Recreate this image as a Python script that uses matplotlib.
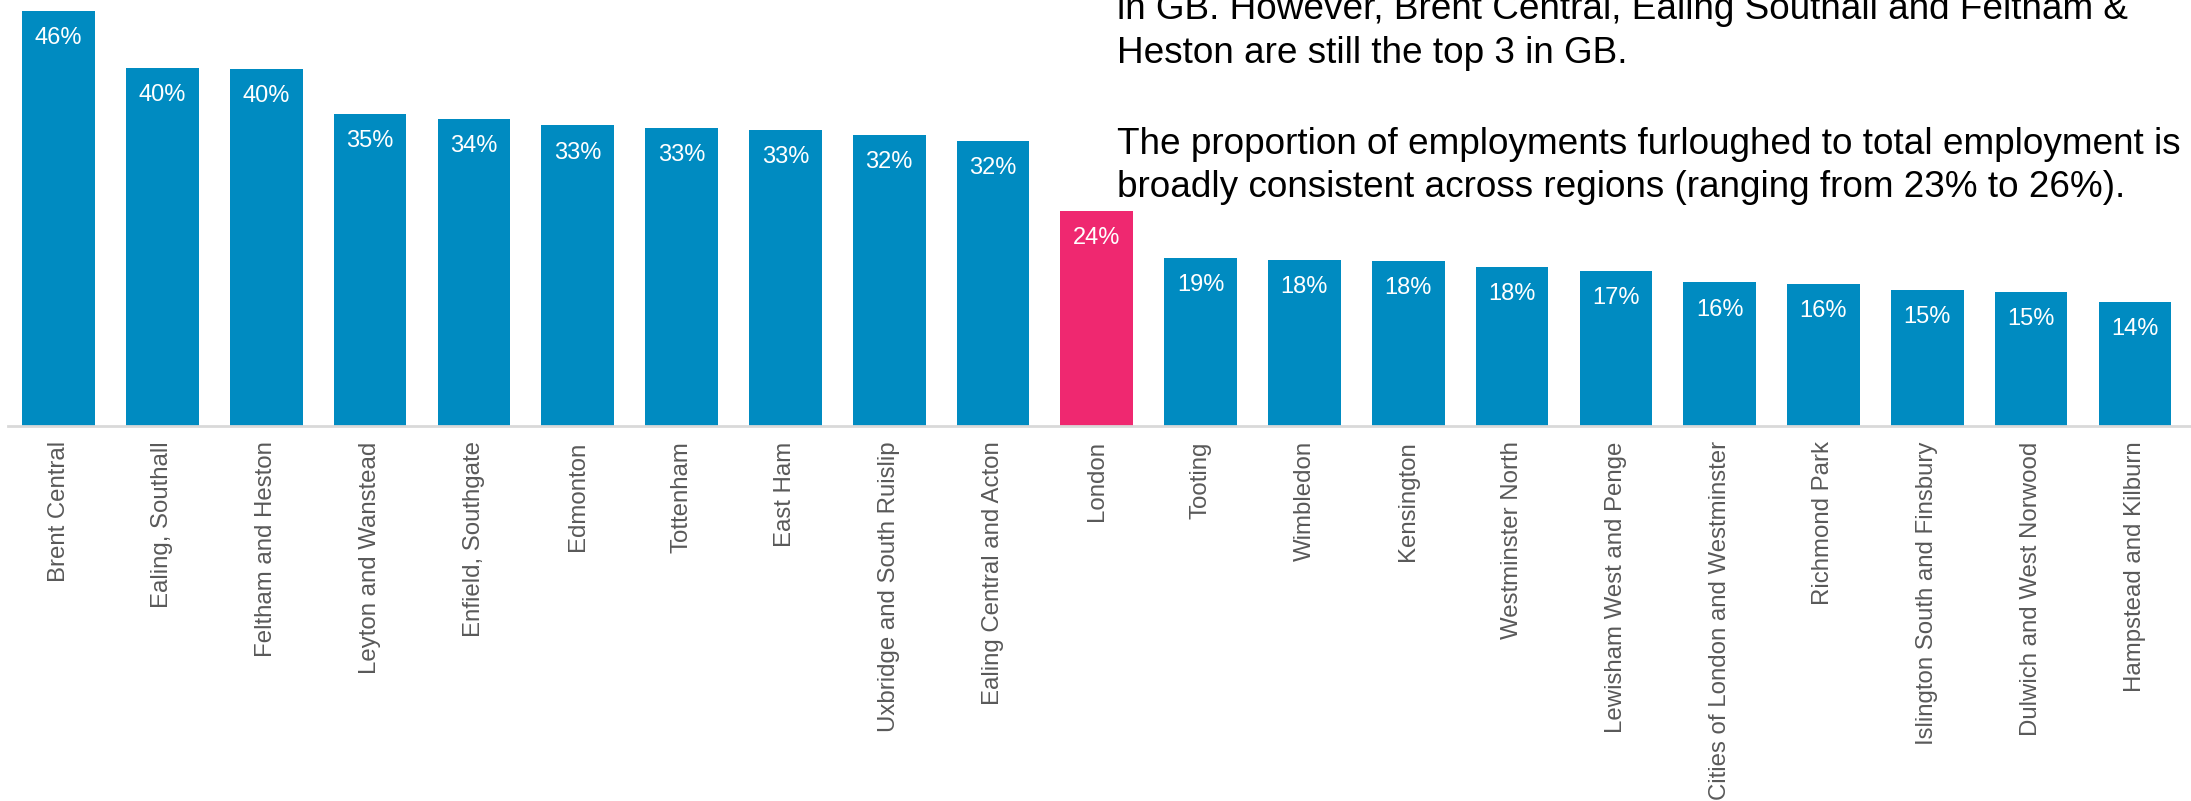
import matplotlib.pyplot as plt

plt.rcParams['font.family'] = ['Liberation Sans', 'DejaVu Sans']

# Share of employments furloughed, by constituency (%)
constituencies = [
    "Brent Central", "Ealing, Southall", "Feltham and Heston",
    "Leyton and Wanstead", "Enfield, Southgate", "Edmonton", "Tottenham",
    "East Ham", "Uxbridge and South Ruislip", "Ealing Central and Acton",
    "London", "Tooting", "Wimbledon", "Kensington", "Westminster North",
    "Lewisham West and Penge", "Cities of London and Westminster",
    "Richmond Park", "Islington South and Finsbury",
    "Dulwich and West Norwood", "Hampstead and Kilburn",
]
furlough_rate = [
    46.0, 39.7, 39.6, 34.6, 34.0, 33.3, 33.0, 32.8, 32.2, 31.6,
    23.8, 18.6, 18.4, 18.3, 17.6, 17.2, 15.9, 15.7, 15.1, 14.9, 13.7,
]
highlight = "London"

note_lines = [
    "in GB. However, Brent Central, Ealing Southall and Feltham &",
    "Heston are still the top 3 in GB.",
    "",
    "The proportion of employments furloughed to total employment is",
    "broadly consistent across regions (ranging from 23% to 26%).",
]

W, H = 2191, 801
fig = plt.figure(figsize=(W / 100, H / 100), dpi=100)
ax = fig.add_axes([8 / W, 1 - 426 / H, 1 - 8 / W, 426 / H])

colors = ['#EF2870' if c == highlight else '#008BC1' for c in constituencies]
x = list(range(len(constituencies)))
ax.bar(x, furlough_rate, width=0.70, color=colors)

# value labels inside the top of each bar
for xi, v in zip(x, furlough_rate):
    ax.annotate(f"{v:.0f}%", (xi, v), xytext=(0, -19.5),
                textcoords='offset points', ha='center', va='center',
                color='white', fontsize=17)

ax.set_xlim(-0.488, 20.54)
ax.set_ylim(0, 47.2)
ax.set_yticks([])
ax.set_xticks(x)
ax.set_xticklabels(constituencies, rotation=90, fontsize=17.3, color='#595959')
ax.tick_params(axis='x', length=0, pad=11)

for side in ['top', 'right', 'left']:
    ax.spines[side].set_visible(False)
ax.spines['bottom'].set_color('#D9D9D9')
ax.spines['bottom'].set_linewidth(2)

# commentary in the upper right
baselines = [19, 63, 108, 154, 197]
for line, b in zip(note_lines, baselines):
    if line:
        fig.text(1117 / W, 1 - b / H, line, fontsize=26.6, color='black',
                 ha='left', va='baseline')

fig.savefig("out.png", dpi=100)
